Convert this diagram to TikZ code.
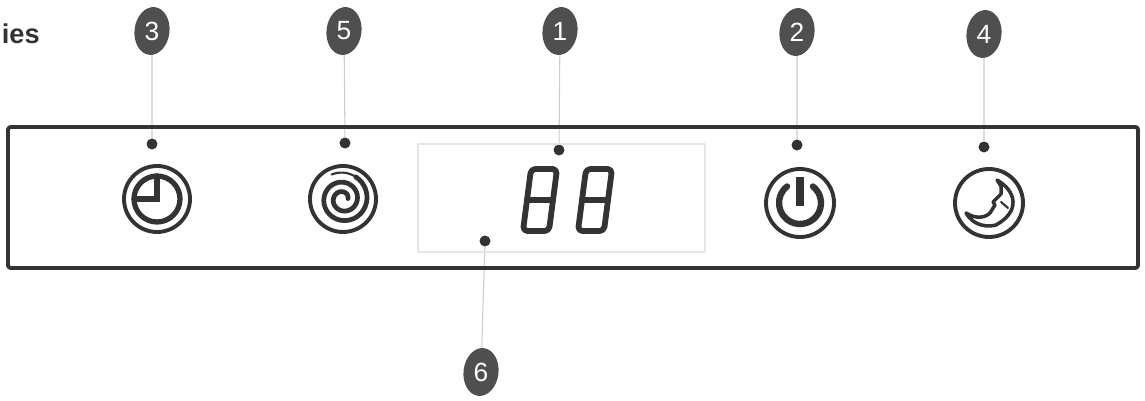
\documentclass[tikz,border=0pt]{standalone}
\usepackage{graphicx}
\usepackage{fontspec}
\setmainfont{Liberation Sans}
\usetikzlibrary{shapes.geometric}
\definecolor{inkdark}{HTML}{333333}
\definecolor{calloutgrey}{HTML}{4F4F4F}
\definecolor{leadgrey}{HTML}{CCCCCC}
\definecolor{boxgrey}{HTML}{E6E6E6}
\tikzset{
  callout/.style={ellipse,fill=calloutgrey,text=white,inner sep=0pt,minimum width=0.7cm,minimum height=0.96cm,rotate=-7,font=\fontsize{15}{15}\selectfont},
  pointdot/.style={circle,fill=inkdark,inner sep=0pt,minimum size=0.22cm},
  leader/.style={leadgrey,line width=0.6pt},
  iconring/.style={inkdark,line width=2.2pt},
  iconbold/.style={inkdark,line width=3pt},
  segline/.style={inkdark,line width=3.3pt,rounded corners=2.5pt}
}
\newcommand{\segdigit}[1]{%
  \begin{scope}[shift={(#1,200)},xslant=0.13]
    \draw[segline] (-13,-31)--(13,-31)--(13,31)--(-13,31)--cycle;
    \draw[segline] (-13,0)--(13,0);
  \end{scope}}
\begin{document}
\begin{tikzpicture}[x=0.02cm,y=-0.02cm,line join=round,line cap=round]
    \useasboundingbox (0,0) rectangle (1145,401);
    \node[anchor=east,inner xsep=0pt,inkdark,font=\bfseries\fontsize{15.5}{15.5}\selectfont] (heading) at (40,34) {ies};
    % callouts and their leaders
    \foreach \num/\cx/\cy/\dx/\dy in {3/152/31/152/144,5/344/31/345/143,1/560/31/559/150,2/797/32/797/145,4/984/34/984/147,6/481/372/485/241}{
      \node[callout] (callout\num) at (\cx,\cy) {\rotatebox{7}{\num}};
      \node[pointdot] (dot\num) at (\dx,\dy) {};
      \draw[leader] (callout\num) -- (dot\num);
    }
    % panel and display window
    \draw[inkdark,line width=2.2pt,rounded corners=1.5pt] (8,127) rectangle (1138,268);
    \draw[boxgrey,line width=1.2pt] (418,144) rectangle (705,252);
    \segdigit{540}
    \segdigit{595}
    % timer
    \draw[iconring] (157,199) circle (33);
    \draw[iconbold] (157,199) circle (23);
    \draw[iconbold,line join=miter] (157,176) -- (157,199) -- (134,199);
    % swirl
    \draw[iconring] (343,199) circle (33);
    \draw[inkdark,line width=1.2pt] plot[domain=-115:-60,samples=12,smooth] ({343+(27-(\x+115)/830*22)*cos(\x)},{199+(27-(\x+115)/830*22)*sin(\x)});
    \draw[inkdark,line width=2.7pt] plot[domain=-60:715,samples=70,smooth] ({343+(27-(\x+115)/830*22)*cos(\x)},{199+(27-(\x+115)/830*22)*sin(\x)});
    % power
    \draw[iconring] (800,203) circle (34);
    \draw[inkdark,line width=3.6pt] (800,203) ++(-52:21) arc[start angle=-52,end angle=232,radius=21];
    \draw[inkdark,line width=4.2pt,line cap=butt] (800,177) -- (800,206);
    % night
    \draw[iconring] (989,203) circle (34);
    \begin{scope}[shift={(989,203)}]
      \draw[inkdark,fill=white,line width=2pt] (8,-23) .. controls (27,-12) and (32,8) .. (7,22) .. controls (0,24) and (-15,24) .. (-23,10)
        .. controls (-12,17) and (-3,14) .. (1,10) -- (6,2) -- (4,-1) -- (12,-9) -- (12,-17) -- cycle;
      \draw[inkdark,line width=1.2pt] (12,-1) -- (19,5);
    \end{scope}
  \end{tikzpicture}
\end{document}
